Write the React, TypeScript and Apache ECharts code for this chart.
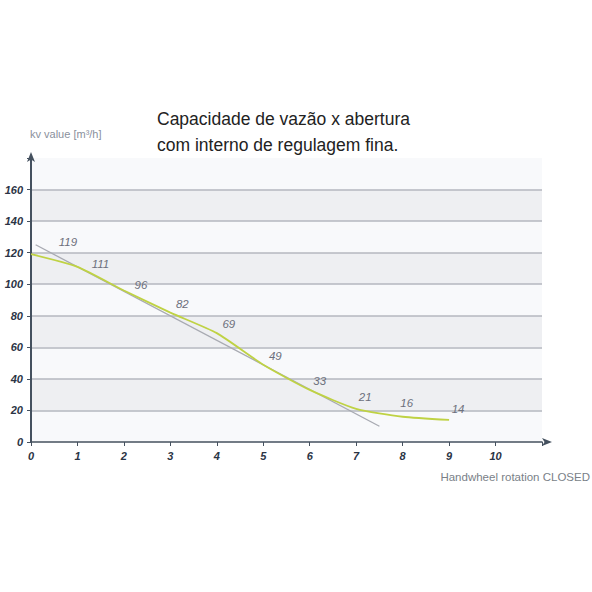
import React, { useEffect, useRef } from "react";
import * as echarts from "echarts";

const xTicks = [0, 1, 2, 3, 4, 5, 6, 7, 8, 9, 10];
const rotations = [0, 1, 2, 3, 4, 5, 6, 7, 8, 9];
const kvValues = [119, 111, 96, 82, 69, 49, 33, 21, 16, 14];
const trendX = [0.1, 7.5];
const trendY = [125, 10];
const yTicks = [0, 20, 40, 60, 80, 100, 120, 140, 160];

const titleText = "Capacidade de vazão x abertura\ncom interno de regulagem fina.";
const yName = "kv value [m³/h]";
const xName = "Handwheel rotation CLOSED";

// label offsets (style only)
const labelOffsets: [number, number][] = [
  [37, -1], [23, 8], [17, 5], [12, 2], [12, 2], [12, 2], [10, 2], [9, -1], [4, -3], [9, 0],
];

const FONT = "'Liberation Sans', Arial, sans-serif";

export default function App() {
  const ref = useRef<HTMLDivElement>(null);
  useEffect(() => {
    document.body.style.margin = "0";
    if (!ref.current) return;
    const chart = echarts.init(ref.current, undefined, { renderer: "svg" });
    const axisColor = "#45515f";
    const gridLineColors = yTicks.map((t, i) => (i === 0 ? "transparent" : "#b4b7bf"));
    gridLineColors.push("transparent");
    chart.setOption({
      animation: false,
      backgroundColor: "#ffffff",
      title: {
        text: titleText,
        left: 157,
        top: 106,
        padding: 0,
        textStyle: {
          fontFamily: FONT,
          fontSize: 17.5,
          fontWeight: "normal",
          color: "#222222",
          lineHeight: 26,
        },
      },
      grid: { left: 31, right: 50, top: 158, bottom: 150 },
      xAxis: {
        type: "value",
        min: 0,
        max: 11,
        interval: 1,
        axisLine: {
          show: true,
          lineStyle: { color: axisColor, width: 1.5 },
          symbol: ["none", "arrow"],
          symbolSize: [6, 10],
          symbolOffset: [0, 10],
        },
        axisTick: { show: true, inside: false, length: 4, lineStyle: { color: axisColor } },
        axisLabel: {
          formatter: (v: number) => (xTicks.includes(v) ? String(v) : ""),
          fontFamily: FONT,
          fontStyle: "italic",
          fontWeight: "bold",
          fontSize: 11,
          color: "#2b3445",
          margin: 8,
        },
        splitLine: { show: false },
      },
      yAxis: {
        type: "value",
        min: 0,
        max: 180,
        interval: 20,
        axisLine: {
          show: true,
          lineStyle: { color: axisColor, width: 2 },
          symbol: ["none", "arrow"],
          symbolSize: [6, 10],
          symbolOffset: [0, 6],
        },
        axisTick: { show: true, inside: false, length: 4, lineStyle: { color: axisColor } },
        axisLabel: {
          formatter: (v: number) => (yTicks.includes(v) ? String(v) : ""),
          fontFamily: FONT,
          fontStyle: "italic",
          fontWeight: "bold",
          fontSize: 11,
          color: "#2b3445",
          margin: 8,
        },
        splitLine: { show: true, lineStyle: { color: gridLineColors, width: 1.5 } },
        splitArea: { show: true, areaStyle: { color: ["#f8f9fb", "#eeeff2"] } },
      },
      graphic: [
        {
          type: "text",
          left: 30,
          top: 128,
          style: { text: yName, fontFamily: FONT, fontSize: 11, fill: "#8a909c" },
        },
        {
          type: "text",
          right: 2,
          top: 471,
          style: { text: xName, fontFamily: FONT, fontSize: 11.5, fill: "#7a7f88" },
        },
      ],
      series: [
        {
          type: "line",
          data: trendX.map((x, i) => [x, trendY[i]]),
          symbol: "none",
          lineStyle: { color: "#a8aab2", width: 1.3 },
          z: 2,
        },
        {
          type: "line",
          data: rotations.map((x, i) => ({
            value: [x, kvValues[i]],
            label: { offset: labelOffsets[i] },
          })),
          symbol: "circle",
          symbolSize: 0,
          showSymbol: true,
          smooth: 0.2,
          lineStyle: { color: "#bfd244", width: 1.8 },
          itemStyle: { color: "#bfd244" },
          z: 3,
          label: {
            show: true,
            position: "top",
            formatter: (p: any) => String(p.value[1]),
            fontFamily: FONT,
            fontStyle: "italic",
            fontSize: 11.5,
            color: "#6c6f7c",
          },
        },
      ],
    });
    return () => chart.dispose();
  }, []);
  return <div ref={ref} style={{ width: 592, height: 592 }} />;
}
